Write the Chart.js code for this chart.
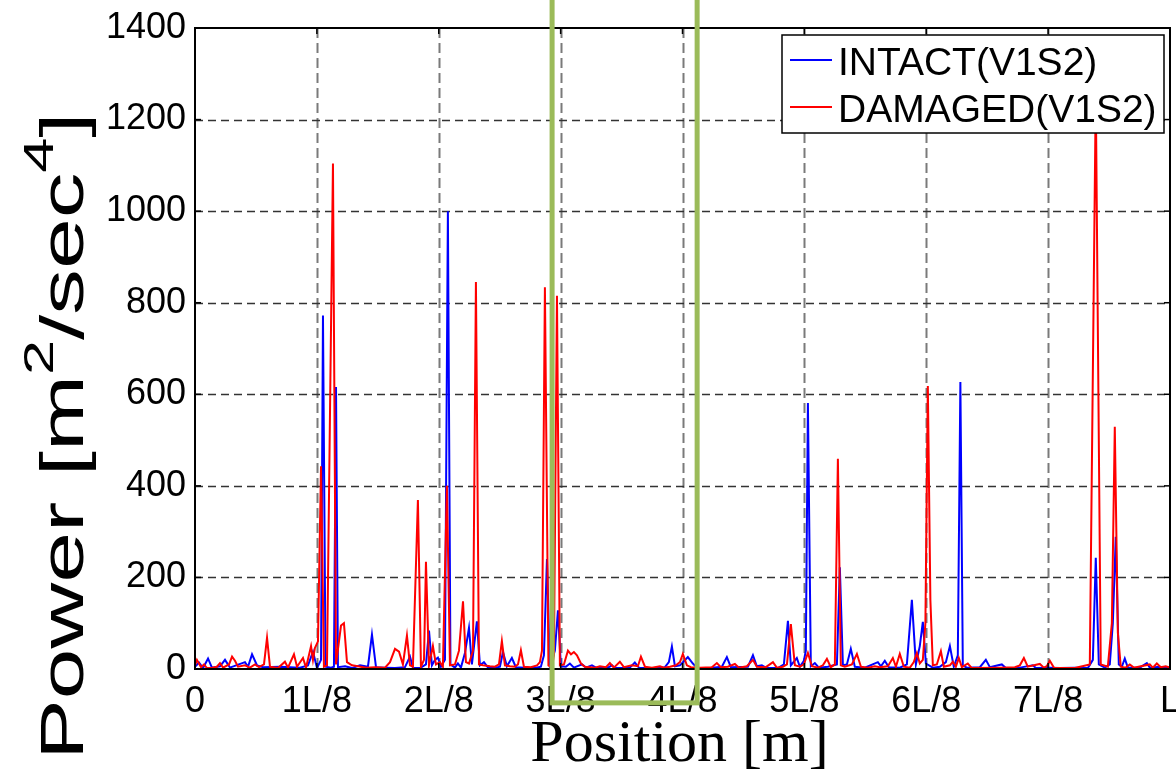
<!DOCTYPE html>
<html>
<head>
<meta charset="utf-8">
<title>Power along the span</title>
<script src="https://cdn.jsdelivr.net/npm/chart.js@4.4.1/dist/chart.umd.min.js"></script>
<style>
  body { margin: 0; background: #fff; }
  #wrap { width: 1176px; height: 771px; }
</style>
</head>
<body>
<div id="wrap"><canvas id="myChart"></canvas></div>
<script>
// positions are in units of L/8
const intactPos = [
    0.000, 0.033, 0.066, 0.107, 0.139, 0.205, 0.246, 0.287, 0.410, 0.435,
    0.468, 0.509, 0.558, 0.697, 0.861, 0.927, 0.968, 1.001, 1.034, 1.050,
    1.071, 1.116, 1.140, 1.157, 1.173, 1.231, 1.288, 1.354, 1.419, 1.452,
    1.485, 1.559, 1.641, 1.723, 1.764, 1.788, 1.846, 1.895, 1.920, 1.944,
    1.969, 1.993, 2.018, 2.051, 2.075, 2.096, 2.133, 2.157, 2.182, 2.215,
    2.248, 2.272, 2.313, 2.338, 2.371, 2.404, 2.461, 2.502, 2.527, 2.559,
    2.600, 2.633, 2.707, 2.789, 2.838, 2.863, 2.888, 2.912, 2.953, 2.978,
    3.002, 3.043, 3.076, 3.109, 3.175, 3.208, 3.257, 3.290, 3.388, 3.421,
    3.445, 3.568, 3.609, 3.642, 3.774, 3.856, 3.888, 3.913, 3.938, 3.979,
    4.044, 4.085, 4.118, 4.225, 4.323, 4.364, 4.397, 4.537, 4.578, 4.610,
    4.651, 4.684, 4.783, 4.832, 4.865, 4.889, 4.938, 4.963, 4.996, 5.012,
    5.029, 5.053, 5.086, 5.119, 5.193, 5.267, 5.291, 5.316, 5.349, 5.381,
    5.414, 5.496, 5.603, 5.628, 5.660, 5.693, 5.783, 5.841, 5.882, 5.915,
    5.947, 5.972, 5.997, 6.054, 6.112, 6.161, 6.194, 6.226, 6.259, 6.280,
    6.300, 6.333, 6.440, 6.489, 6.522, 6.620, 6.653, 6.768, 6.875, 6.899,
    7.014, 7.096, 7.219, 7.326, 7.367, 7.391, 7.416, 7.465, 7.506, 7.531,
    7.555, 7.580, 7.605, 7.629, 7.654, 7.752, 7.810, 7.834, 7.916, 7.957,
    8.000
]
const intactPower = [
    5, 14, 2, 23, 3, 6, 20, 3, 15, 5,
    32, 8, 4, 5, 3, 8, 38, 2, 20, 772,
    5, 3, 5, 616, 4, 6, 2, 8, 5, 75,
    4, 3, 2, 4, 27, 3, 2, 10, 84, 8,
    20, 25, 5, 20, 1000, 10, 3, 12, 3, 35,
    90, 10, 104, 8, 15, 3, 2, 5, 37, 6,
    24, 4, 3, 2, 5, 30, 240, 4, 40, 128,
    6, 5, 12, 3, 10, 3, 8, 3, 3, 8,
    2, 3, 14, 3, 2, 4, 15, 49, 6, 8,
    26, 12, 3, 2, 5, 26, 4, 5, 30, 6,
    8, 3, 2, 10, 105, 8, 24, 5, 18, 40,
    581, 6, 13, 3, 5, 10, 222, 8, 10, 44,
    5, 3, 15, 6, 18, 4, 3, 10, 151, 10,
    50, 103, 12, 3, 5, 15, 50, 5, 30, 627,
    8, 3, 4, 20, 4, 10, 2, 3, 8, 2,
    3, 2, 3, 2, 20, 243, 10, 3, 10, 100,
    289, 10, 5, 23, 3, 3, 13, 3, 5, 2,
    4
]
const damagedPos = [
    0.000, 0.016, 0.049, 0.074, 0.098, 0.139, 0.180, 0.205, 0.230, 0.279,
    0.304, 0.328, 0.353, 0.410, 0.451, 0.492, 0.525, 0.566, 0.591, 0.615,
    0.681, 0.738, 0.763, 0.812, 0.837, 0.886, 0.911, 0.952, 0.968, 0.984,
    1.009, 1.034, 1.058, 1.083, 1.132, 1.157, 1.198, 1.222, 1.247, 1.288,
    1.337, 1.403, 1.477, 1.559, 1.600, 1.641, 1.674, 1.706, 1.739, 1.764,
    1.788, 1.829, 1.854, 1.879, 1.895, 1.920, 1.952, 1.977, 2.010, 2.034,
    2.067, 2.092, 2.133, 2.166, 2.199, 2.223, 2.248, 2.281, 2.305, 2.330,
    2.363, 2.420, 2.461, 2.494, 2.518, 2.543, 2.584, 2.625, 2.650, 2.674,
    2.699, 2.756, 2.806, 2.830, 2.847, 2.871, 2.900, 2.929, 2.945, 2.970,
    2.994, 3.027, 3.060, 3.085, 3.109, 3.134, 3.167, 3.199, 3.281, 3.322,
    3.372, 3.404, 3.437, 3.486, 3.519, 3.585, 3.634, 3.659, 3.692, 3.749,
    3.815, 3.847, 3.897, 3.946, 3.979, 4.003, 4.036, 4.069, 4.143, 4.241,
    4.282, 4.315, 4.372, 4.430, 4.463, 4.528, 4.578, 4.610, 4.684, 4.742,
    4.774, 4.824, 4.857, 4.889, 4.922, 4.963, 4.996, 5.029, 5.062, 5.111,
    5.152, 5.185, 5.217, 5.250, 5.275, 5.299, 5.332, 5.390, 5.431, 5.464,
    5.521, 5.578, 5.619, 5.685, 5.726, 5.751, 5.783, 5.816, 5.866, 5.898,
    5.923, 5.947, 5.972, 5.993, 6.013, 6.034, 6.054, 6.087, 6.120, 6.144,
    6.194, 6.218, 6.243, 6.267, 6.292, 6.341, 6.374, 6.604, 6.727, 6.768,
    6.801, 6.833, 6.932, 6.965, 6.989, 7.014, 7.047, 7.219, 7.342, 7.391,
    7.432, 7.490, 7.523, 7.547, 7.572, 7.596, 7.637, 7.670, 7.703, 7.834,
    7.859, 7.892, 7.924, 7.965, 8.000
]
const damagedPower = [
    8, 20, 4, 10, 2, 3, 5, 13, 3, 10,
    27, 18, 5, 8, 3, 10, 4, 10, 68, 5,
    2, 16, 3, 32, 5, 24, 3, 50, 20, 46,
    60, 443, 5, 8, 1104, 10, 95, 100, 15, 8,
    6, 3, 4, 3, 15, 44, 38, 10, 73, 8,
    5, 369, 5, 20, 234, 8, 50, 10, 15, 5,
    400, 8, 10, 40, 148, 15, 12, 40, 845, 10,
    8, 6, 5, 10, 61, 8, 6, 5, 10, 41,
    5, 4, 8, 15, 40, 834, 8, 3, 30, 815,
    8, 10, 40, 32, 37, 30, 12, 5, 3, 6,
    4, 13, 3, 16, 4, 8, 6, 27, 5, 3,
    6, 3, 5, 8, 15, 33, 8, 4, 3, 4,
    13, 4, 5, 11, 3, 6, 20, 5, 4, 15,
    3, 5, 10, 98, 8, 5, 10, 35, 6, 3,
    8, 22, 4, 10, 459, 8, 5, 10, 33, 5,
    3, 6, 4, 6, 24, 5, 33, 5, 3, 15,
    35, 12, 20, 100, 618, 150, 8, 10, 39, 5,
    8, 16, 5, 24, 4, 12, 2, 3, 4, 8,
    24, 5, 11, 3, 6, 18, 3, 2, 10, 1260,
    10, 5, 100, 529, 80, 5, 3, 10, 3, 10,
    3, 12, 4, 6, 3
]
const xTickValues = [0, 1, 2, 3, 4, 5, 6, 7, 8]
const xTickLabels = ["0", "1L/8", "2L/8", "3L/8", "4L/8", "5L/8", "6L/8", "7L/8", "L"]
const yTicks = [0, 200, 400, 600, 800, 1000, 1200, 1400]
const seriesNames = ["INTACT(V1S2)", "DAMAGED(V1S2)"]
const seriesColors = ["#0000ff", "#ff0000"]
// highlighted stretch around 3L/8 - 4L/8 (x range, power range)
const boxRange = [2.93, 4.12]
const boxPower = [-74, 1500]

const sans = "'Liberation Sans', Arial, sans-serif"
const serif = "'Liberation Serif', 'Times New Roman', serif"

function toPoints(pos, vals) {
    return pos.map((p, i) => ({ x: p, y: vals[i] }))
}

function strokeLine(ctx, x1, y1, x2, y2) {
    ctx.beginPath()
    ctx.moveTo(x1, y1)
    ctx.lineTo(x2, y2)
    ctx.stroke()
}

const axesDecor = {
    id: "axesDecor",
    beforeDatasetsDraw(chart) {
        const { ctx, chartArea: a, scales: { x, y } } = chart
        ctx.save()
        // dashed grid
        ctx.lineWidth = 2
        ctx.strokeStyle = "#7a7a7a"
        ctx.setLineDash([10, 5])
        xTickValues.slice(1, -1).forEach((v) => {
            const px = Math.round(x.getPixelForValue(v)) + 0.5
            strokeLine(ctx, px, a.top, px, a.bottom)
        })
        ctx.lineWidth = 1.3
        ctx.strokeStyle = "#333"
        ctx.setLineDash([8, 5])
        yTicks.slice(1, -1).forEach((v) => {
            const py = Math.round(y.getPixelForValue(v)) + 0.5
            strokeLine(ctx, a.left, py, a.right, py)
        })
        ctx.restore()
    },
    afterDatasetsDraw(chart) {
        const { ctx, chartArea: a, scales: { x, y } } = chart
        ctx.save()
        ctx.strokeStyle = "#000"
        ctx.lineWidth = 2
        ctx.strokeRect(a.left, a.top, a.right - a.left, a.bottom - a.top)
        // small inward ticks
        ctx.lineWidth = 1.5
        xTickValues.forEach((v) => {
            const px = x.getPixelForValue(v)
            strokeLine(ctx, px, a.bottom, px, a.bottom - 6)
            strokeLine(ctx, px, a.top, px, a.top + 6)
        })
        yTicks.forEach((v) => {
            const py = y.getPixelForValue(v)
            strokeLine(ctx, a.left, py, a.left + 6, py)
            strokeLine(ctx, a.right, py, a.right - 6, py)
        })

        // legend box
        const bw = 382, bh = 98
        const bx = a.right - 6 - bw
        const by = a.top + 7
        ctx.fillStyle = "#fff"
        ctx.fillRect(bx, by, bw, bh)
        ctx.lineWidth = 1.5
        ctx.strokeRect(bx, by, bw, bh)
        ctx.font = "39px " + sans
        ctx.textBaseline = "alphabetic"
        ctx.textAlign = "left"
        seriesNames.forEach((name, i) => {
            const ly = by + 25 + i * 47
            ctx.strokeStyle = seriesColors[i]
            ctx.lineWidth = 2
            strokeLine(ctx, bx + 8, ly, bx + 50, ly)
            ctx.fillStyle = "#000"
            ctx.fillText(name, bx + 56, by + 40 + i * 47)
        })
        ctx.restore()
    },
    afterDraw(chart) {
        const { ctx, chartArea: a, scales: { x, y } } = chart
        ctx.save()

        // x title
        ctx.fillStyle = "#000"
        ctx.font = "60px " + serif
        ctx.textAlign = "center"
        ctx.textBaseline = "alphabetic"
        ctx.fillText("Position [m]", (a.left + a.right) / 2 - 3, a.bottom + 92)

        // y title with superscripts, reading upwards
        const parts = [
            ["Power [m", 0], ["2", 1], ["/sec", 0], ["4", 1], ["]", 0]
        ]
        ctx.translate(a.left - 112, a.bottom + 91)
        ctx.rotate(-Math.PI / 2)
        ctx.scale(1.47, 1)
        ctx.textAlign = "left"
        let cx = 0
        parts.forEach(([txt, sup]) => {
            ctx.font = (sup ? "43px " : "62px ") + sans
            ctx.fillText(txt, cx, sup ? -30 : 0)
            cx += ctx.measureText(txt).width
        })
        ctx.restore()

        // highlight frame
        ctx.save()
        ctx.strokeStyle = "#9bbb59"
        ctx.lineWidth = 5
        const x1 = x.getPixelForValue(boxRange[0])
        const x2 = x.getPixelForValue(boxRange[1])
        const y1 = y.getPixelForValue(boxPower[1])
        const y2 = y.getPixelForValue(boxPower[0])
        ctx.strokeRect(x1, y1, x2 - x1, y2 - y1)
        ctx.restore()
    }
}

function noOverflow(s) {
    s.paddingLeft = 0
    s.paddingRight = 0
    s.paddingTop = 0
    s.paddingBottom = 0
}

const config = {
    type: "line",
    data: {
        datasets: [
            {
                label: seriesNames[0],
                data: toPoints(intactPos, intactPower),
                borderColor: seriesColors[0],
                borderWidth: 2,
                pointRadius: 0,
                tension: 0,
                order: 1
            },
            {
                label: seriesNames[1],
                data: toPoints(damagedPos, damagedPower),
                borderColor: seriesColors[1],
                borderWidth: 2,
                pointRadius: 0,
                tension: 0,
                order: 0
            }
        ]
    },
    options: {
        responsive: true,
        maintainAspectRatio: false,
        animation: false,
        layout: { padding: { top: 28, right: 6, left: 0, bottom: 0 } },
        plugins: { legend: { display: false }, tooltip: { enabled: false } },
        scales: {
            x: {
                type: "linear",
                min: 0,
                max: 8,
                grid: { display: false, drawTicks: false },
                border: { display: false },
                afterFit: (s) => { s.height = 102; noOverflow(s) },
                ticks: {
                    stepSize: 1,
                    autoSkip: false,
                    maxRotation: 0,
                    padding: 11,
                    color: "#000",
                    font: { family: sans, size: 36 },
                    callback: (v) => xTickLabels[v]
                }
            },
            y: {
                min: 0,
                max: 1400,
                grid: { display: false, drawTicks: false },
                border: { display: false },
                afterFit: (s) => { s.width = 195; noOverflow(s) },
                ticks: {
                    stepSize: 200,
                    padding: 9,
                    color: "#000",
                    font: { family: sans, size: 36 },
                    callback: (v) => String(v)
                }
            }
        }
    },
    plugins: [axesDecor]
}

const chartDOM = document.getElementById("myChart")
const myChart = new Chart(chartDOM, config)
</script>
</body>
</html>
